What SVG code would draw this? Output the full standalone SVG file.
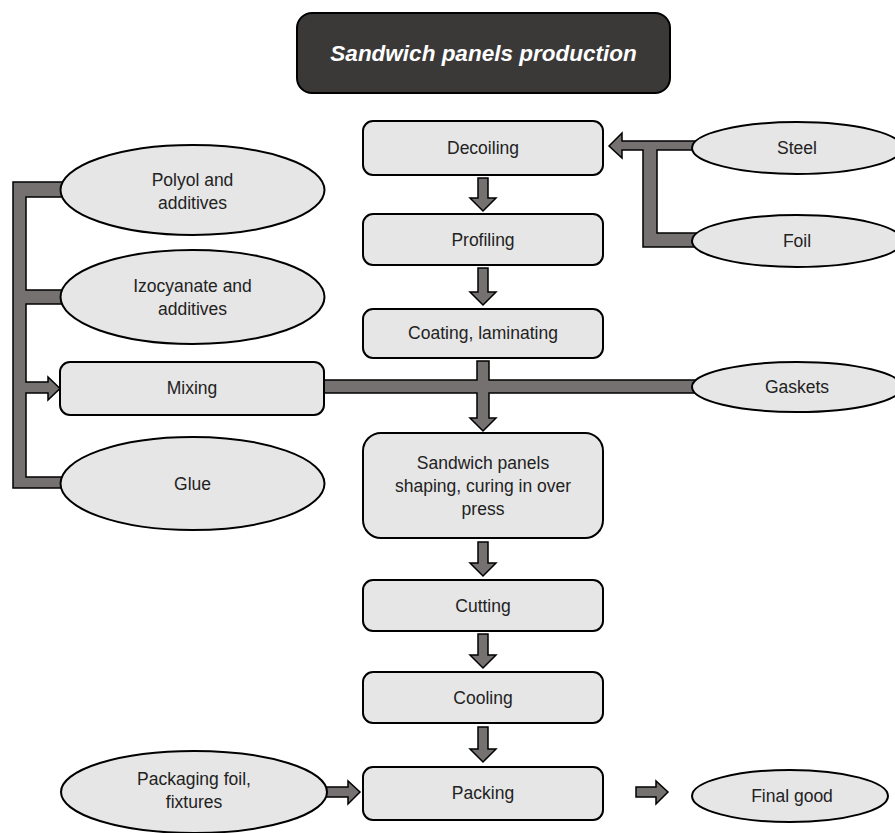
<svg xmlns="http://www.w3.org/2000/svg" width="895" height="833" viewBox="0 0 895 833">
<style>
.box{fill:#e6e6e6;stroke:#000;stroke-width:2}
.ell{fill:#e6e6e6;stroke:#000;stroke-width:2}
.conn{fill:#767171;stroke:#000;stroke-width:1.5;stroke-linejoin:miter}
text{font-family:"Liberation Sans",Arial,sans-serif;font-size:17.5px;fill:#222;text-anchor:middle}
.title{fill:#fff;font-weight:bold;font-style:italic;font-size:22.5px}
</style>
<rect width="895" height="833" fill="#fff"/>
<g id="connectors">
<polygon class="conn" points="478,178 488,178 488,198 496,198 483,211 470,198 478,198"/>
<polygon class="conn" points="478,268 488,268 488,292 496,292 483,305 470,292 478,292"/>
<polygon class="conn" points="324,380 477,380 477,361 489,361 489,380 700,380 700,393 489,393 489,418 496,418 483,431 470,418 477,418 477,393 324,393"/>
<polygon class="conn" points="478,542 488,542 488,563 496,563 483,576 470,563 478,563"/>
<polygon class="conn" points="478,634 488,634 488,655 496,655 483,668 470,655 478,655"/>
<polygon class="conn" points="478,727 488,727 488,749 496,749 483,762 470,749 478,749"/>
<polygon class="conn" points="609,146 622,133 622,141 700,141 700,150 657,150 657,233 700,233 700,247 643,247 643,150 622,150 622,158"/>
<polygon class="conn" points="66,182 13,182 13,488 66,488 66,477 26,477 26,393 48,393 48,400 60,388.5 48,377 48,382 26,382 26,304 66,304 66,290 26,290 26,197 66,197"/>
<polygon class="conn" points="322,787 348,787 348,781 360,792 348,804 348,797 322,797"/>
<polygon class="conn" points="636,787 656,787 656,781 668,792 656,804 656,797 636,797"/>
</g>
<g id="title"><rect x="297" y="13" width="373" height="80" rx="15" fill="#3a3938" stroke="#000" stroke-width="2"/><text class="title" x="483.5" y="61">Sandwich panels production</text></g>
<g id="decoiling"><rect class="box" x="363" y="121" width="240" height="54" rx="10"/><text x="483" y="154">Decoiling</text></g>
<g id="profiling"><rect class="box" x="363" y="214" width="240" height="51" rx="10"/><text x="483" y="246">Profiling</text></g>
<g id="coating"><rect class="box" x="363" y="309" width="240" height="49" rx="10"/><text x="483" y="339">Coating, laminating</text></g>
<g id="mixing"><rect class="box" x="60" y="362" width="264" height="53" rx="10"/><text x="192" y="394">Mixing</text></g>
<g id="shaping"><rect class="box" x="363" y="433" width="240" height="105" rx="18"/><text x="483" y="469">Sandwich panels</text><text x="483" y="492">shaping, curing in over</text><text x="483" y="515">press</text></g>
<g id="cutting"><rect class="box" x="363" y="580" width="240" height="51" rx="10"/><text x="483" y="612">Cutting</text></g>
<g id="cooling"><rect class="box" x="363" y="672" width="240" height="51" rx="10"/><text x="483" y="704">Cooling</text></g>
<g id="packing"><rect class="box" x="363" y="767" width="240" height="53" rx="10"/><text x="483" y="799">Packing</text></g>
<g id="steel"><ellipse class="ell" cx="797" cy="148" rx="105" ry="26"/><text x="797" y="154">Steel</text></g>
<g id="foil"><ellipse class="ell" cx="797" cy="241" rx="105" ry="26"/><text x="797" y="247">Foil</text></g>
<g id="gaskets"><ellipse class="ell" cx="797" cy="387" rx="105" ry="25"/><text x="797" y="393">Gaskets</text></g>
<g id="final"><ellipse class="ell" cx="790" cy="796" rx="98" ry="26"/><text x="792" y="802">Final good</text></g>
<g id="polyol"><ellipse class="ell" cx="192.5" cy="190" rx="132" ry="45"/><text x="192.5" y="186">Polyol and</text><text x="192.5" y="209">additives</text></g>
<g id="izocyanate"><ellipse class="ell" cx="192.5" cy="297" rx="132" ry="47"/><text x="192.5" y="292">Izocyanate and</text><text x="192.5" y="315">additives</text></g>
<g id="glue"><ellipse class="ell" cx="192.5" cy="483.5" rx="132" ry="46.5"/><text x="192.5" y="490">Glue</text></g>
<g id="packaging"><ellipse class="ell" cx="194" cy="792" rx="133" ry="41"/><text x="194" y="785">Packaging foil,</text><text x="194" y="808">fixtures</text></g>
</svg>
